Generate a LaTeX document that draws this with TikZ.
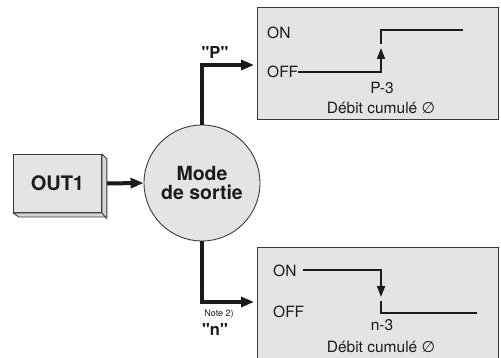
\documentclass[tikz,border=0pt]{standalone}
\usepackage{fontspec}
\setmainfont{TeX Gyre Heros}
\newfontfamily\symfont{DejaVu Sans}
\newfontfamily\qfont{TeX Gyre Heros}[Mapping=,Ligatures=NoCommon]
\usetikzlibrary{arrows.meta}
\definecolor{ink}{HTML}{1E1A1A}
\definecolor{panelgray}{HTML}{E4E4E4}
\definecolor{sidegray}{HTML}{D6D6D6}
\definecolor{edge}{HTML}{3A3A3A}
\tikzset{
  panel/.style={draw=edge, fill=panelgray, line width=0.9pt, inner sep=0pt},
  thickarrow/.style={draw=ink, line width=4pt, line join=miter, -{Triangle[length=13pt,width=10pt]}},
  sigline/.style={draw=ink, line width=1.6pt, line join=miter},
  sigarrow/.style={sigline, -{Triangle[length=11pt,width=8pt]}},
  lbl/.style={font=\fontsize{15.5}{17}\selectfont, inner sep=0pt, text=ink},
  biglbl/.style={font=\qfont\bfseries\fontsize{16.5}{18}\selectfont, inner sep=0pt, text=ink},
  notelbl/.style={font=\fontsize{9}{10}\selectfont, inner sep=0pt, text=ink},
}
\begin{document}
\begin{tikzpicture}[x=1pt,y=-1pt]
\useasboundingbox (0,0) rectangle (501,358);
\clip (0,0) rectangle (501,358);

% OUT1 block with depth
\node[panel, minimum width=88pt, minimum height=58pt, anchor=north west,
      font=\bfseries\fontsize{20}{22}\selectfont, text=ink] (out) at (13,154) {OUT1};
\fill[sidegray, draw=edge, line width=0.9pt, line join=round]
  (out.north east) -- ++(5,5) -- ++(0,58) -- ++(-88,0) -- (out.south west) -- (out.south east) -- cycle;
\draw[edge, line width=0.9pt] (out.south east) -- ++(5,6);

% Mode circle
\node[circle, draw=edge, fill=panelgray, line width=0.9pt, minimum size=116pt, inner sep=0pt,
      align=center, font=\bfseries\fontsize{19.5}{19.5}\selectfont, text=ink] (mode) at (202,183) {Mode\\de sortie};

\draw[thickarrow] ([xshift=5pt]out.east) -- (mode.west);

% Panels
\node[panel, minimum width=241pt, minimum height=112pt, anchor=north west] (toppanel) at (257,7) {};
\node[panel, minimum width=241pt, minimum height=120pt, anchor=north west] (botpanel) at (257,247) {};

% Connectors to panels
\coordinate (ptip) at (254,65);
\coordinate (ntip) at (254,302);
\draw[thickarrow] (mode.north) |- (ptip);
\draw[thickarrow] (mode.south) |- (ntip);
\node[biglbl] (plbl) at (215,52) {"P"};
\node[notelbl] (note) at (219,314) {Note 2)};
\node[biglbl] (nlbl) at (215,329) {"n"};

% Top panel contents
\node[lbl, anchor=west] (on1) at (267,33) {ON};
\node[lbl, anchor=west] (off1) at (267,72) {OFF};
\coordinate (a1) at (381,72);
\coordinate (a1tip) at (381,48);
\coordinate (a1top) at (381,30);
\coordinate (a1end) at (463,30);
\draw[sigarrow] (off1.east) -- (a1) -- (a1tip);
\draw[sigline] ([yshift=4pt]a1tip) -- (a1top) -- (a1end);
\node[lbl] (p3) at (382,88) {P-3};
\node[lbl] (deb1) at (381,108) {Débit cumulé {\symfont ∅}};

% Bottom panel contents
\node[lbl, anchor=west] (on2) at (273,271) {ON};
\node[lbl, anchor=west] (off2) at (273,312) {OFF};
\coordinate (b0) at (303,270);
\coordinate (b1) at (381,270);
\coordinate (b1tip) at (381,297);
\coordinate (b1bot) at (381,313);
\coordinate (b1end) at (477,313);
\draw[sigarrow] (b0) -- (b1) -- (b1tip);
\draw[sigline] ([yshift=-4pt]b1tip) -- (b1bot) -- (b1end);
\node[lbl] (n3) at (382,325) {n-3};
\node[lbl] (deb2) at (381,347) {Débit cumulé {\symfont ∅}};
\end{tikzpicture}
\end{document}
